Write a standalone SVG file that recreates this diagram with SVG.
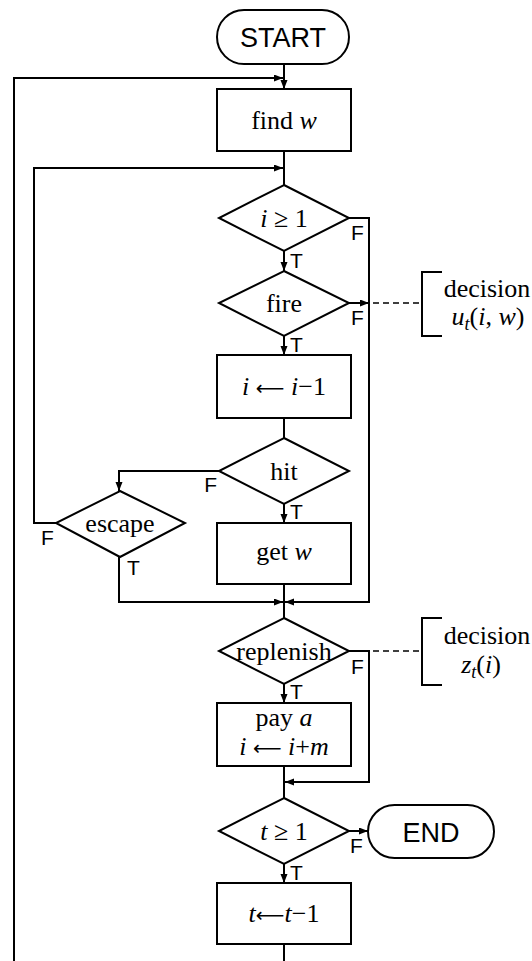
<svg xmlns="http://www.w3.org/2000/svg" width="532" height="961" viewBox="0 0 532 961">
  <style>
    .box { fill: #fff; stroke: #000; stroke-width: 2; }
    .ln { fill: none; stroke: #000; stroke-width: 2; }
    .dash { fill: none; stroke: #000; stroke-width: 1.6; stroke-dasharray: 6 4; }
    .m { font-family: "Liberation Serif", "Times New Roman", serif; font-size: 26px; text-anchor: middle; fill: #000; }
    .i { font-style: italic; }
    .sub { font-style: italic; font-size: 18px; }
    .ar { font-family: "DejaVu Sans", sans-serif; font-size: 20px; }
    .lab { font-family: "Liberation Sans", Arial, sans-serif; font-size: 21px; fill: #000; }
    .term { font-family: "Liberation Sans", Arial, sans-serif; font-size: 27px; text-anchor: middle; fill: #000; }
  </style>
  <defs>
    <marker id="arr" markerUnits="userSpaceOnUse" markerWidth="10" markerHeight="8" refX="9" refY="3.5" orient="auto">
      <path d="M0,0 L9,3.5 L0,7 z" fill="#000"/>
    </marker>
  </defs>

  <rect width="532" height="961" fill="#fff"/>

  <!-- connectors -->
  <g id="connectors">
    <path class="ln" d="M284,64 V89" marker-end="url(#arr)"/>
    <path class="ln" d="M14,961 V78 H283" marker-end="url(#arr)"/>
    <path class="ln" d="M284,151 V185"/>
    <path class="ln" d="M56,523 H34 V168 H283" marker-end="url(#arr)"/>
    <path class="ln" d="M284,251 V271" marker-end="url(#arr)"/>
    <path class="ln" d="M349,218 H369 V602 H285" marker-end="url(#arr)"/>
    <path class="ln" d="M349,303 H369" marker-end="url(#arr)"/>
    <path class="ln" d="M284,336 V355" marker-end="url(#arr)"/>
    <path class="ln" d="M284,418 V438"/>
    <path class="ln" d="M219,471 H119 V491" marker-end="url(#arr)"/>
    <path class="ln" d="M284,504 V523" marker-end="url(#arr)"/>
    <path class="ln" d="M119,557 V602 H283" marker-end="url(#arr)"/>
    <path class="ln" d="M284,584 V618"/>
    <path class="ln" d="M284,684 V703" marker-end="url(#arr)"/>
    <path class="ln" d="M349,651 H369 V782 H285" marker-end="url(#arr)"/>
    <path class="ln" d="M284,766 V798"/>
    <path class="ln" d="M349,831 H368" marker-end="url(#arr)"/>
    <path class="ln" d="M284,864 V883" marker-end="url(#arr)"/>
    <path class="ln" d="M284,944 V961"/>
    <!-- links to the decision notes -->
    <path class="dash" d="M373,303 H422"/>
    <path class="dash" d="M373,651 H422"/>
  </g>

  <!-- branch labels -->
  <g id="branch-labels" class="lab">
    <text x="351" y="240">F</text>
    <text x="290" y="268">T</text>
    <text x="351" y="325">F</text>
    <text x="290" y="352">T</text>
    <text x="217" y="492" text-anchor="end">F</text>
    <text x="290" y="519">T</text>
    <text x="41" y="545">F</text>
    <text x="127" y="575">T</text>
    <text x="351" y="674">F</text>
    <text x="290" y="699">T</text>
    <text x="350" y="853">F</text>
    <text x="290" y="880">T</text>
  </g>

  <g id="start">
    <rect class="box" x="217" y="10" width="132" height="54" rx="27"/>
    <text class="term" x="283" y="47">START</text>
  </g>

  <g id="find-w">
    <rect class="box" x="217" y="89" width="134" height="62"/>
    <text class="m" x="284" y="129">find <tspan class="i">w</tspan></text>
  </g>

  <g id="i-ge-1">
    <polygon class="box" points="284,185 349,218 284,251 219,218"/>
    <text class="m" x="284" y="227"><tspan class="i">i</tspan> ≥ 1</text>
  </g>

  <g id="fire">
    <polygon class="box" points="284,271 349,303 284,336 219,303"/>
    <text class="m" x="284" y="312">fire</text>
  </g>

  <g id="decision-u">
    <path class="ln" d="M442,272 H422 V336 H442"/>
    <text class="m" x="487" y="297">decision</text>
    <text class="m" x="488" y="325"><tspan class="i">u</tspan><tspan class="sub" dy="5">t</tspan><tspan dy="-5">(</tspan><tspan class="i">i</tspan>, <tspan class="i">w</tspan>)</text>
  </g>

  <g id="dec-i">
    <rect class="box" x="217" y="355" width="134" height="63"/>
    <text class="m" x="284" y="395"><tspan class="i">i</tspan> <tspan class="ar">⟵</tspan> <tspan class="i">i</tspan>−1</text>
  </g>

  <g id="hit">
    <polygon class="box" points="284,438 349,471 284,504 219,471"/>
    <text class="m" x="284" y="480">hit</text>
  </g>

  <g id="escape">
    <polygon class="box" points="120,491 185,523 120,557 56,523"/>
    <text class="m" x="120" y="532">escape</text>
  </g>

  <g id="get-w">
    <rect class="box" x="217" y="523" width="134" height="61"/>
    <text class="m" x="284" y="560">get <tspan class="i">w</tspan></text>
  </g>

  <g id="replenish">
    <polygon class="box" points="284,618 349,651 284,684 219,651"/>
    <text class="m" x="284" y="660">replenish</text>
  </g>

  <g id="decision-z">
    <path class="ln" d="M442,618 H422 V685 H442"/>
    <text class="m" x="487" y="644">decision</text>
    <text class="m" x="481" y="673"><tspan class="i">z</tspan><tspan class="sub" dy="5">t</tspan><tspan dy="-5">(</tspan><tspan class="i">i</tspan>)</text>
  </g>

  <g id="pay-a">
    <rect class="box" x="217" y="703" width="134" height="63"/>
    <text class="m" x="284" y="726">pay <tspan class="i">a</tspan></text>
    <text class="m" x="284" y="755"><tspan class="i">i</tspan> <tspan class="ar">⟵</tspan> <tspan class="i">i</tspan>+<tspan class="i">m</tspan></text>
  </g>

  <g id="t-ge-1">
    <polygon class="box" points="284,798 349,831 284,864 219,831"/>
    <text class="m" x="284" y="840"><tspan class="i">t</tspan> ≥ 1</text>
  </g>

  <g id="end">
    <rect class="box" x="368" y="805" width="126" height="53" rx="26.5"/>
    <text class="term" x="431" y="842">END</text>
  </g>

  <g id="dec-t">
    <rect class="box" x="217" y="883" width="134" height="61"/>
    <text class="m" x="284" y="922"><tspan class="i">t</tspan><tspan class="ar">⟵</tspan><tspan class="i">t</tspan>−1</text>
  </g>
</svg>
